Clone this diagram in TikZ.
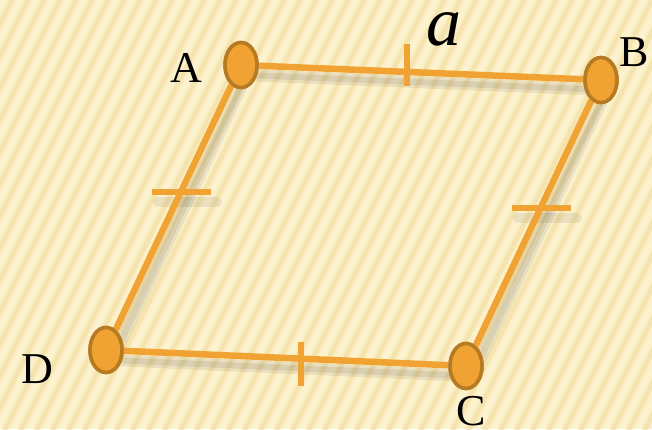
\documentclass[tikz,border=0pt]{standalone}
\usepackage{fontspec}
\setmainfont{Liberation Serif}
\usetikzlibrary{shapes.geometric}
\begin{document}
\begin{tikzpicture}[x=1pt,y=-1pt,
  edge/.style={draw=edgeor,line width=6.5pt},
  tick/.style={draw=edgeor,line width=6.5pt},
  vert/.style={ellipse,draw=vertbr,fill=edgeor,line width=3.5pt,minimum width=32pt,minimum height=45pt,inner sep=0pt},
  lab/.style={font=\fontsize{44}{44}\selectfont,text=black,inner sep=0pt,anchor=base},
  shad/.style={draw=black,line width=12pt,opacity=0.07,line cap=round}]
\definecolor{bgc}{HTML}{FCF0C6}
\definecolor{stripe}{HTML}{F2DDA2}
\definecolor{edgeor}{HTML}{F0A232}
\definecolor{vertbr}{HTML}{B67A22}
\useasboundingbox (0,0) rectangle (652,429);
\fill[bgc] (0,0) rectangle (652,429);
\begin{scope}
\clip (0,0) rectangle (652,429);
\foreach \i in {-20,...,70}{
  \draw[stripe,line width=5pt,opacity=0.6] (\i*16,440) -- ++(230,-460);
  \draw[white,line width=3pt,opacity=0.25] (\i*16+8,440) -- ++(230,-460);
}
\end{scope}
% vertices positions
\coordinate (pA) at (241,65);
\coordinate (pB) at (601,80);
\coordinate (pC) at (466,366);
\coordinate (pD) at (106,350);
% shadows
\begin{scope}[shift={(6,10)}]
\draw[shad] (241,65) -- (601,80) -- (466,366) -- (106,350) -- cycle;
\draw[shad,line width=6pt] (241,65) -- (601,80) -- (466,366) -- (106,350) -- cycle;
\draw[shad,line width=10pt] (152,192) -- (211,192);
\draw[shad,line width=10pt] (512,208) -- (571,208);
\end{scope}
% vertices
\node[vert] (A) at (pA) {};
\node[vert] (B) at (pB) {};
\node[vert] (C) at (pC) {};
\node[vert] (D) at (pD) {};
% edges
\draw[edge] (A) -- (B);
\draw[edge] (B) -- (C);
\draw[edge] (C) -- (D);
\draw[edge] (D) -- (A);
% ticks
\coordinate (tAB1) at (407,44); \coordinate (tAB2) at (407,86);
\coordinate (tBC1) at (512,208); \coordinate (tBC2) at (571,208);
\coordinate (tCD1) at (301,342); \coordinate (tCD2) at (301,386);
\coordinate (tDA1) at (152,192); \coordinate (tDA2) at (211,192);
\draw[tick] (tAB1) -- (tAB2);
\draw[tick] (tBC1) -- (tBC2);
\draw[tick] (tCD1) -- (tCD2);
\draw[tick] (tDA1) -- (tDA2);
% redraw vertices on top
\node[vert] at (pA) {};
\node[vert] at (pB) {};
\node[vert] at (pC) {};
\node[vert] at (pD) {};
% labels
\node[lab] (lA) at (186,82) {A};
\node[lab] (lB) at (634,66) {B};
\node[lab] (lC) at (471,425) {C};
\node[lab] (lD) at (37,383) {D};
\node[lab,font=\fontsize{70}{70}\selectfont\itshape] (la) at (444,45) {a};
\end{tikzpicture}
\end{document}
